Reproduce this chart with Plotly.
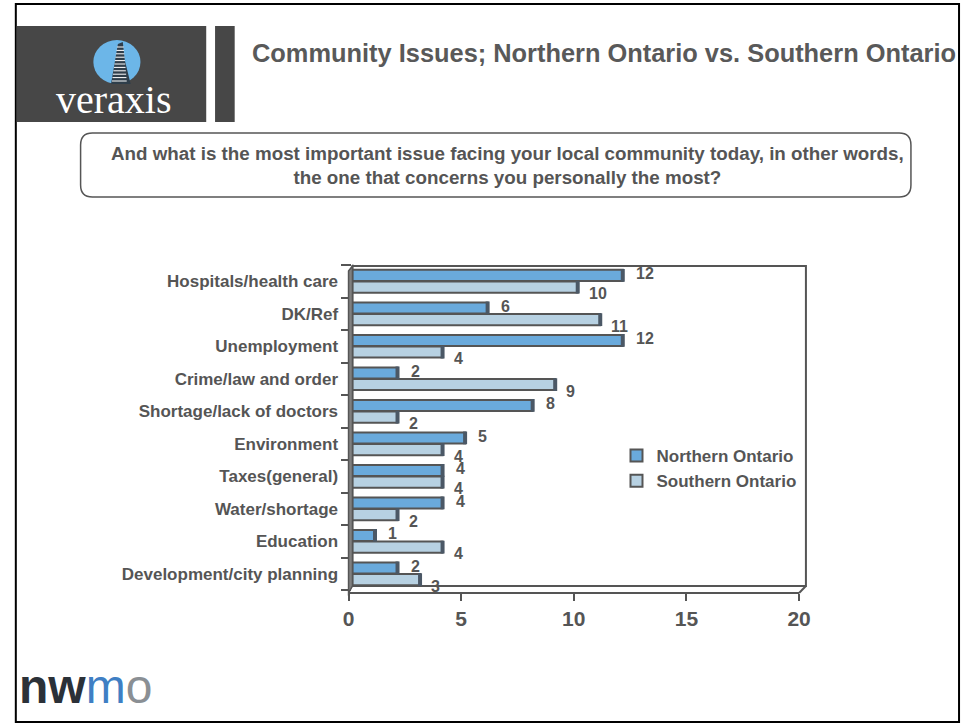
import plotly.graph_objects as go

# ---- data ----
categories = [
    "Hospitals/health care", "DK/Ref", "Unemployment", "Crime/law and order",
    "Shortage/lack of doctors", "Environment", "Taxes(general)", "Water/shortage",
    "Education", "Development/city planning",
]
northern = [12, 6, 12, 2, 8, 5, 4, 4, 1, 2]
southern = [10, 11, 4, 9, 2, 4, 4, 2, 4, 3]
x_ticks = [0, 5, 10, 15, 20]

W, H = 973, 727
GRAY = "#555555"
FONT = "Liberation Sans"
N_COL = "#6aaadc"
S_COL = "#b7d1e2"
CAP = "#4b5866"


def px(x):
    return x / W


def py(y):
    return 1 - y / H


idx = list(range(len(categories)))
BAR_W = 0.34

fig = go.Figure()
fig.add_trace(go.Bar(
    name="Northern Ontario", orientation="h", y=idx, x=northern,
    width=BAR_W, offset=-BAR_W - 0.01,
    marker=dict(color=N_COL, line=dict(color=GRAY, width=2)),
    hoverinfo="x+name",
))
fig.add_trace(go.Bar(
    name="Southern Ontario", orientation="h", y=idx, x=southern,
    width=BAR_W, offset=0.01,
    marker=dict(color=S_COL, line=dict(color=GRAY, width=2)),
    hoverinfo="x+name",
))
# cylinder end caps
fig.add_trace(go.Scatter(
    x=northern + southern,
    y=[i - BAR_W / 2 - 0.01 for i in idx] + [i + BAR_W / 2 + 0.01 for i in idx],
    mode="markers", showlegend=False, hoverinfo="skip",
    marker=dict(symbol="line-ns", size=9, line=dict(color=CAP, width=4)),
))
# front axis carrying the value ticks
fig.add_trace(go.Scatter(
    x=[x_ticks[0], x_ticks[-1]], y=[0, 0], xaxis="x2", mode="markers",
    marker=dict(opacity=0), showlegend=False, hoverinfo="skip",
))

# value labels
for i in idx:
    fig.add_annotation(x=northern[i], y=i - BAR_W / 2, text=str(northern[i]),
                       xanchor="left", xshift=11, yshift=2, showarrow=False,
                       font=dict(family=FONT, size=16, color=GRAY, weight="bold"))
    fig.add_annotation(x=southern[i], y=i + BAR_W / 2, text=str(southern[i]),
                       xanchor="left", xshift=9, yshift=-7, showarrow=False,
                       font=dict(family=FONT, size=16, color=GRAY, weight="bold"))

shapes = []
# slide frame
shapes.append(dict(type="rect", xref="paper", yref="paper", x0=px(10), x1=px(971),
                   y0=py(722), y1=py(4), line=dict(color="black", width=2)))
# header blocks
shapes.append(dict(type="rect", xref="paper", yref="paper", x0=px(11), x1=px(204),
                   y0=py(122), y1=py(26), fillcolor="#474747", line=dict(width=0)))
shapes.append(dict(type="rect", xref="paper", yref="paper", x0=px(213), x1=px(233),
                   y0=py(122), y1=py(26), fillcolor="#474747", line=dict(width=0)))
shapes.append(dict(type="circle", xref="paper", yref="paper", x0=px(89), x1=px(137),
                   y0=py(84), y1=py(40), fillcolor="#6cb6e8", line=dict(width=0)))
shapes.append(dict(type="path", xref="paper", yref="paper",
                   path=f"M {px(107)},{py(84)} L {px(114)},{py(44)} L {px(119)},{py(42)} "
                        f"L {px(121)},{py(60)} L {px(127)},{py(84)} Z",
                   fillcolor="#2f3e4a", line=dict(width=0)))
for k in range(11):
    yy = 47 + k * 3.4
    shapes.append(dict(type="line", xref="paper", yref="paper",
                       x0=px(113 - k * 0.5), x1=px(120 + k * 0.3), y0=py(yy), y1=py(yy),
                       line=dict(color="white", width=1)))


def rounded_rect(x0, y0, x1, y1, r):
    return (f"M {px(x0 + r)},{py(y0)} L {px(x1 - r)},{py(y0)} "
            f"Q {px(x1)},{py(y0)} {px(x1)},{py(y0 + r)} L {px(x1)},{py(y1 - r)} "
            f"Q {px(x1)},{py(y1)} {px(x1 - r)},{py(y1)} L {px(x0 + r)},{py(y1)} "
            f"Q {px(x0)},{py(y1)} {px(x0)},{py(y1 - r)} L {px(x0)},{py(y0 + r)} "
            f"Q {px(x0)},{py(y0)} {px(x0 + r)},{py(y0)} Z")


shapes.append(dict(type="path", xref="paper", yref="paper",
                   path=rounded_rect(76, 133, 922, 197, 12),
                   line=dict(color=GRAY, width=1.5)))

# 3-D chart walls
shapes.append(dict(type="rect", xref="paper", yref="paper", layer="below",
                   x0=px(353), x1=px(815), y0=py(586), y1=py(266),
                   line=dict(color=GRAY, width=2), fillcolor="white"))
shapes.append(dict(type="path", xref="paper", yref="paper",
                   path=f"M {px(349)},{py(271)} L {px(353)},{py(266)} L {px(353)},{py(586)} "
                        f"L {px(349)},{py(593)} Z",
                   fillcolor="#808080", line=dict(color=GRAY, width=1.5)))
shapes.append(dict(type="line", xref="paper", yref="paper",
                   x0=px(808), x1=px(815), y0=py(593), y1=py(586),
                   line=dict(color=GRAY, width=2)))

annotations = list(fig.layout.annotations)
annotations += [
    dict(xref="paper", yref="paper", x=px(249), y=py(53), xanchor="left", yanchor="middle",
         text="Community Issues; Northern Ontario vs. Southern Ontario", showarrow=False,
         font=dict(family=FONT, size=25.4, color="#595959", weight="bold")),
    dict(xref="paper", yref="paper", x=px(511), y=py(165), xanchor="center", yanchor="middle",
         text="And what is the most important issue facing your local community today, in other words,"
              "<br>the one that concerns you personally the most?",
         showarrow=False,
         font=dict(family=FONT, size=18.8, color=GRAY, weight="bold")),
    dict(xref="paper", yref="paper", x=px(110), y=py(99), xanchor="center", yanchor="middle",
         text="veraxis", showarrow=False,
         font=dict(family="Liberation Serif", size=40, color="white")),
    dict(xref="paper", yref="paper", x=px(11), y=py(686), xanchor="left", yanchor="middle",
         text="<b>nw</b><span style='color:#3f7fc4'>m</span><span style='color:#8a8f94'>o</span>",
         showarrow=False,
         font=dict(family=FONT, size=48, color="#2b3138")),
]

fig.update_layout(
    width=W, height=H, margin=dict(l=0, r=0, t=0, b=0),
    paper_bgcolor="white", plot_bgcolor="rgba(0,0,0,0)",
    barmode="overlay",
    shapes=shapes, annotations=annotations,
    showlegend=True,
    legend=dict(x=px(622), y=py(438), xanchor="left", yanchor="top",
                traceorder="normal", bgcolor="rgba(0,0,0,0)",
                font=dict(family=FONT, size=17, color=GRAY, weight="bold"),
                itemwidth=30, tracegroupgap=6),
    xaxis=dict(domain=[px(353), px(812)], range=[0, 20], visible=False, fixedrange=True),
    xaxis2=dict(domain=[px(349), px(808)], range=[0, 20], anchor="free",
                position=py(593), tickvals=x_ticks, ticks="outside", ticklen=7,
                tickwidth=2, tickcolor=GRAY, showline=True, linecolor=GRAY, linewidth=2,
                showgrid=False, zeroline=False,
                tickfont=dict(family=FONT, size=21, color=GRAY, weight="bold")),
    yaxis=dict(domain=[py(590), py(265)], range=[9.5, -0.5],
               tickvals=idx, ticktext=categories, ticks="outside", ticklen=10,
               tickcolor="rgba(0,0,0,0)", showline=False, showgrid=False, zeroline=False,
               tickfont=dict(family=FONT, size=17, color=GRAY, weight="bold"),
               minor=dict(tickvals=[i - 0.5 for i in idx] + [len(idx) - 0.5],
                          ticks="outside", ticklen=10, tickwidth=2, tickcolor=GRAY)),
    font=dict(family=FONT),
)

fig.write_html("out.html")
